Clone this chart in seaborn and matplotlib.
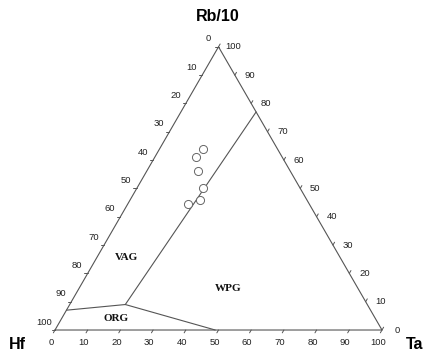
import numpy as np
import pandas as pd
import matplotlib
import matplotlib.pyplot as plt
import seaborn as sns

matplotlib.use("Agg")
sns.set_theme(style="white")
plt.rcParams["font.family"] = ["Liberation Sans", "DejaVu Sans"]

# sample compositions (percent of Hf + Rb/10 + Ta*3)
rb = [63.9, 61.1, 56.1, 50.0, 45.8, 44.5]
ta = [13.2, 12.6, 15.8, 20.2, 21.4, 18.4]
hf = [100 - r - t for r, t in zip(rb, ta)]

# field boundaries (rb, ta)
vag_wpg_rb = [77, 9]
vag_wpg_ta = [23, 17]
org_top_rb = [7, 9]
org_top_ta = [0, 17]
org_wpg_rb = [9, 0]
org_wpg_ta = [17, 49]

ticks = list(range(0, 101, 10))
H = np.sqrt(3) / 2
LINE = "#555555"


def to_xy(r, t):
    r = np.asarray(r, float)
    t = np.asarray(t, float)
    return t + r / 2, r * H


fig = plt.figure(figsize=(4.27, 3.53), dpi=100)
ax = fig.add_axes([0, 0, 1, 1])
ax.set_xlim(-16.82, 113.76)
ax.set_ylim(-7.03, 100.92)
ax.axis("off")

# triangle
ax.plot([0, 100, 50, 0], [0, 0, 100 * H, 0], color=LINE, lw=0.8)

# field boundaries
for r, t in [(vag_wpg_rb, vag_wpg_ta), (org_top_rb, org_top_ta), (org_wpg_rb, org_wpg_ta)]:
    x, y = to_xy(r, t)
    sns.lineplot(x=x, y=y, ax=ax, color=LINE, lw=0.8, sort=False, estimator=None)

# ticks and tick labels
tl = 1.0
px = 100 / 327
for v in ticks:
    # bottom: Ta
    x, y = v, 0
    ax.plot([x, x - 0.5 * tl], [y, y - H * tl], color=LINE, lw=0.7)
    ax.text(x - 4 * px, y - 12 * px, str(v), ha="center", va="center", fontsize=6.8, color="#222222")
    # left: Hf (0 at apex)
    x, y = to_xy(100 - v, 0)
    ax.plot([x, x - tl], [y, y], color=LINE, lw=0.7)
    ax.text(x - 10.5 * px, y + 8 * px, str(v), ha="center", va="center", fontsize=6.8, color="#222222")
    # right: Rb (100 at apex)
    x, y = to_xy(v, 100 - v)
    ax.plot([x, x + 0.5 * tl], [y, y + H * tl], color=LINE, lw=0.7)
    ax.text(x + 15 * px, y, str(v), ha="center", va="center", fontsize=6.8, color="#222222")

# samples
x, y = to_xy(rb, ta)
df = pd.DataFrame({"x": x, "y": y, "hf": hf})
sns.scatterplot(data=df, x="x", y="y", ax=ax, s=34, facecolor="white",
                edgecolor="#666666", linewidth=0.7, zorder=5)
ax.set_xlabel("")
ax.set_ylabel("")

# field labels
for label, (lx, ly) in {"VAG": (126, 257), "WPG": (228, 288), "ORG": (116, 318)}.items():
    ax.text((lx - 55) * px, (330 - ly) * px, label, ha="center", va="center",
            fontsize=8, fontweight="bold", family="Liberation Serif", color="#111111")

# apex labels
ax.text((218 - 55) * px, (330 - 16) * px, "Rb/10", ha="center", va="center",
        fontsize=11.5, fontweight="bold", color="black")
ax.text((17 - 55) * px, (330 - 344) * px, "Hf", ha="center", va="center",
        fontsize=11.5, fontweight="bold", color="black")
ax.text((415 - 55) * px, (330 - 344) * px, "Ta", ha="center", va="center",
        fontsize=11.5, fontweight="bold", color="black")

fig.savefig("out.png", dpi=100)
